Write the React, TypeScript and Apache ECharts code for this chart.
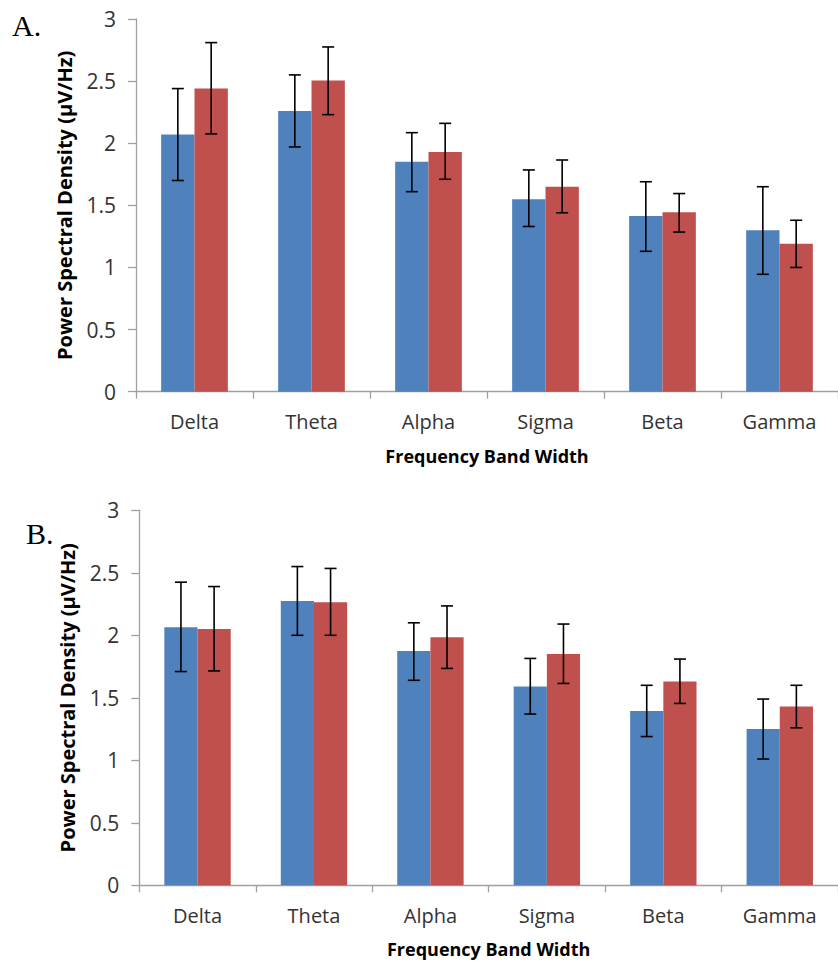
import React, { useEffect, useRef } from "react";
import * as echarts from "echarts";

const categories = ["Delta", "Theta", "Alpha", "Sigma", "Beta", "Gamma"];
const yTicks = [0, 0.5, 1, 1.5, 2, 2.5, 3];

// Panel A
const aBlue = [2.07, 2.26, 1.85, 1.55, 1.415, 1.3];
const aBlueLow = [1.7, 1.97, 1.61, 1.33, 1.13, 0.945];
const aBlueHigh = [2.44, 2.55, 2.085, 1.785, 1.69, 1.65];
const aRed = [2.44, 2.505, 1.93, 1.65, 1.445, 1.19];
const aRedLow = [2.075, 2.23, 1.71, 1.44, 1.285, 1.0];
const aRedHigh = [2.81, 2.775, 2.16, 1.865, 1.595, 1.38];

// Panel B
const bBlue = [2.065, 2.275, 1.875, 1.59, 1.395, 1.25];
const bBlueLow = [1.71, 2.0, 1.64, 1.37, 1.19, 1.01];
const bBlueHigh = [2.425, 2.55, 2.1, 1.815, 1.6, 1.49];
const bRed = [2.05, 2.265, 1.985, 1.85, 1.63, 1.43];
const bRedLow = [1.715, 2.0, 1.735, 1.615, 1.455, 1.26];
const bRedHigh = [2.39, 2.535, 2.235, 2.09, 1.81, 1.6];

const BLUE = "#4F81BD";
const RED = "#C0504D";
const BAR_FRAC = 0.285;
const FONT = "Open Sans";

function errData(low: number[], high: number[]) {
  return low.map((l, i) => [i, l, high[i]]);
}

function errSeries(gridIdx: number, low: number[], high: number[], side: number) {
  return {
    type: "custom",
    xAxisIndex: gridIdx,
    yAxisIndex: gridIdx,
    data: errData(low, high),
    encode: { x: 0, y: [1, 2] },
    z: 5,
    silent: true,
    renderItem: (params: any, api: any) => {
      const idx = api.value(0);
      const lo = api.coord([idx, api.value(1)]);
      const hi = api.coord([idx, api.value(2)]);
      const band = api.size([1, 0])[0];
      const x = lo[0] + (side * band * BAR_FRAC) / 2;
      const cap = 6;
      const style = { stroke: "#000", lineWidth: 1.6 };
      return {
        type: "group",
        children: [
          { type: "line", shape: { x1: x, y1: hi[1], x2: x, y2: lo[1] }, style },
          { type: "line", shape: { x1: x - cap, y1: hi[1], x2: x + cap, y2: hi[1] }, style },
          { type: "line", shape: { x1: x - cap, y1: lo[1], x2: x + cap, y2: lo[1] }, style },
        ],
      };
    },
  };
}

function barSeries(gridIdx: number, data: number[], color: string) {
  return {
    type: "bar",
    xAxisIndex: gridIdx,
    yAxisIndex: gridIdx,
    data,
    barWidth: BAR_FRAC * 100 + "%",
    barGap: "0%",
    itemStyle: { color },
  };
}

const axisColor = "#a0a0a0";

function xAxisCfg(gridIdx: number) {
  return {
    type: "category",
    gridIndex: gridIdx,
    data: categories,
    boundaryGap: true,
    axisLine: { show: true, lineStyle: { color: axisColor, width: 1.3 } },
    axisTick: { show: true, length: 7, inside: false, lineStyle: { color: axisColor, width: 1.3 } },
    axisLabel: { color: "#333", fontSize: 20, fontFamily: FONT, margin: 20 },
    name: "Frequency Band Width",
    nameLocation: "middle",
    nameGap: 55,
    nameTextStyle: { color: "#000", fontSize: 18, fontWeight: "bold", fontFamily: FONT },
  };
}

function yAxisCfg(gridIdx: number) {
  return {
    type: "value",
    gridIndex: gridIdx,
    min: 0,
    max: 3,
    interval: 0.5,
    splitLine: { show: false },
    axisLine: { show: true, lineStyle: { color: axisColor, width: 1.3 } },
    axisTick: { show: true, length: 8, lineStyle: { color: axisColor, width: 1.3 } },
    axisLabel: {
      color: "#333",
      fontSize: 21,
      fontFamily: FONT,
      margin: 20,
      formatter: (v: number) => (yTicks.includes(v) ? String(v) : ""),
    },
    name: "Power Spectral Density (\u00b5V/Hz)",
    nameLocation: "middle",
    nameGap: 62,
    nameTextStyle: { color: "#000", fontSize: 20, fontWeight: "bold", fontFamily: FONT },
  };
}

export default function App() {
  const ref = useRef<HTMLDivElement>(null);
  useEffect(() => {
    document.body.style.margin = "0";
    if (!ref.current) return;
    const chart = echarts.init(ref.current, null, { renderer: "svg" });
    chart.setOption({
      animation: false,
      backgroundColor: "#fff",
      grid: [
        { left: 136, top: 19, width: 705.6, height: 372.7, containLabel: false },
        { left: 139.3, top: 510.3, width: 708, height: 375, containLabel: false },
      ],
      xAxis: [xAxisCfg(0), xAxisCfg(1)],
      yAxis: [yAxisCfg(0), yAxisCfg(1)],
      graphic: [
        {
          type: "text",
          left: 12,
          top: 10,
          style: { text: "A.", fontSize: 30, fontFamily: "Liberation Serif", fill: "#000" },
        },
        {
          type: "text",
          left: 26,
          top: 518,
          style: { text: "B.", fontSize: 30, fontFamily: "Liberation Serif", fill: "#000" },
        },
      ],
      series: [
        barSeries(0, aBlue, BLUE),
        barSeries(0, aRed, RED),
        errSeries(0, aBlueLow, aBlueHigh, -1),
        errSeries(0, aRedLow, aRedHigh, 1),
        barSeries(1, bBlue, BLUE),
        barSeries(1, bRed, RED),
        errSeries(1, bBlueLow, bBlueHigh, -1),
        errSeries(1, bRedLow, bRedHigh, 1),
      ],
    });
    return () => chart.dispose();
  }, []);
  return <div ref={ref} style={{ width: 838, height: 963 }} />;
}
